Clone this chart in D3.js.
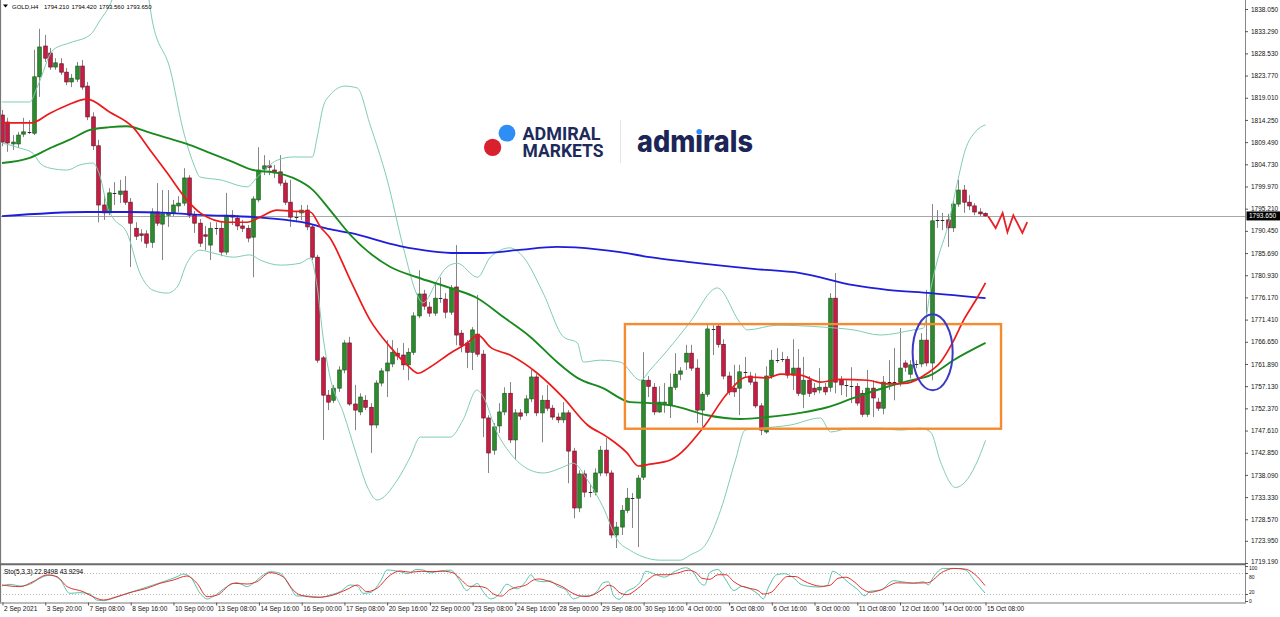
<!DOCTYPE html>
<html><head><meta charset="utf-8">
<script src="https://cdn.jsdelivr.net/npm/d3@7"></script>
<style>html,body{margin:0;padding:0;background:#fff;overflow:hidden}text{font-family:'Liberation Sans',Arial,sans-serif}</style>
</head><body><svg id="c" width="1280" height="617"></svg>
<script>
// ---------- DATA ----------
const dateLabels = ["2 Sep 2021","3 Sep 20:00","7 Sep 08:00","8 Sep 16:00","10 Sep 00:00","13 Sep 08:00","14 Sep 16:00","16 Sep 00:00","17 Sep 08:00","20 Sep 16:00","22 Sep 00:00","23 Sep 08:00","24 Sep 16:00","28 Sep 00:00","29 Sep 08:00","30 Sep 16:00","4 Oct 00:00","5 Oct 08:00","6 Oct 16:00","8 Oct 00:00","11 Oct 08:00","12 Oct 16:00","14 Oct 00:00","15 Oct 08:00"];
const priceLabels = ["1838.050","1833.290","1828.530","1823.770","1819.010","1814.250","1809.490","1804.730","1799.970","1795.210","1790.450","1785.690","1780.930","1776.170","1771.410","1766.650","1761.890","1757.130","1752.370","1747.610","1742.850","1738.090","1733.330","1728.570","1723.950","1719.190"];
const stochLabels = ["100","80","20","0"];

const open = [1815.3,1813.8,1809.1,1809.1,1811.2,1811.7,1811.4,1823.5,1830.1,1828.6,1825.6,1826.3,1824.5,1822.4,1823.0,1825.8,1821.5,1814.9,1808.7,1796.0,
1794.3,1798.6,1798.3,1799.0,1796.6,1791.0,1789.8,1789.8,1788.0,1794.5,1791.9,1793.8,1794.3,1795.8,1796.4,1801.8,1793.8,1792.1,1789.6,1787.4,
1791.0,1791.0,1785.9,1793.8,1793.2,1791.5,1791.0,1789.1,1797.1,1803.7,1804.4,1803.5,1803.1,1800.7,1796.6,1793.6,1794.3,1794.9,1791.3,1784.8,
1763.2,1755.2,1754.1,1756.7,1760.6,1766.4,1753.3,1751.6,1754.1,1752.6,1748.8,1757.8,1760.4,1761.9,1764.2,1763.8,1761.7,1764.4,1772.2,1776.9,
1774.1,1772.8,1776.0,1775.8,1773.0,1778.4,1768.5,1766.4,1764.4,1768.3,1764.0,1750.3,1743.4,1748.6,1751.6,1755.6,1745.6,1751.4,1751.4,1754.4,
1759.1,1751.4,1754.1,1752.4,1750.5,1749.9,1751.4,1743.2,1731.0,1738.3,1734.4,1734.4,1738.5,1743.4,1738.5,1725.2,1726.9,1730.5,1733.1,1733.1,
1737.6,1758.4,1756.9,1751.6,1753.1,1753.1,1756.9,1759.7,1762.3,1764.2,1761.0,1752.0,1755.4,1769.6,1770.0,1766.1,1759.3,1756.7,1756.7,1760.2,
1759.3,1758.0,1752.9,1747.3,1759.3,1762.7,1762.9,1762.9,1759.5,1761.0,1755.4,1758.4,1756.7,1756.3,1756.9,1756.9,1776.0,1758.4,1757.4,1757.2,
1757.1,1755.6,1751.1,1756.7,1753.7,1752.4,1758.0,1758.1,1758.0,1762.1,1759.7,1761.8,1761.9,1767.0,1762.1,1792.6,1792.8,1792.8,1791.1,1796.2,
1799.2,1796.6,1795.8,1794.5,1794.21];
const high = [1816.4,1814.7,1811.0,1811.7,1814.7,1814.2,1829.3,1833.8,1832.5,1829.7,1827.5,1827.5,1825.4,1824.1,1826.7,1827.1,1822.4,1815.9,1810.0,1798.1,
1799.6,1800.9,1801.4,1802.2,1797.5,1792.3,1790.8,1790.6,1795.3,1800.7,1799.2,1799.2,1797.1,1797.9,1803.9,1802.4,1794.7,1793.0,1791.5,1792.3,
1792.3,1792.3,1798.6,1794.9,1793.8,1792.8,1791.7,1797.9,1808.4,1806.7,1805.6,1804.6,1806.7,1801.4,1801.4,1794.5,1796.0,1796.0,1791.9,1785.3,
1763.6,1756.3,1757.4,1761.4,1767.0,1767.7,1757.4,1755.6,1755.2,1753.5,1758.4,1761.0,1767.0,1767.0,1765.3,1766.4,1765.3,1773.0,1782.0,1777.8,
1775.2,1779.3,1780.5,1777.1,1778.8,1787.4,1769.2,1767.0,1769.8,1776.7,1764.9,1750.9,1749.2,1753.5,1756.9,1758.0,1752.2,1752.2,1755.2,1760.6,
1759.7,1755.2,1757.4,1753.1,1751.4,1753.7,1752.0,1743.9,1739.1,1739.1,1735.9,1739.5,1744.3,1746.0,1739.1,1728.0,1731.6,1735.3,1734.2,1738.1,
1764.4,1759.3,1757.8,1757.1,1757.8,1759.9,1764.2,1761.2,1766.0,1766.0,1762.9,1755.9,1770.5,1770.2,1770.4,1767.2,1760.2,1761.7,1761.7,1763.4,
1760.2,1759.9,1753.5,1761.4,1764.9,1765.3,1764.5,1763.6,1767.2,1765.1,1763.4,1759.3,1757.8,1761.0,1757.8,1777.1,1781.4,1759.3,1758.4,1761.2,
1757.8,1756.3,1760.6,1758.4,1754.6,1759.3,1762.7,1765.3,1769.6,1762.7,1762.7,1762.7,1768.5,1777.8,1796.2,1794.9,1794.3,1794.1,1797.1,1801.4,
1800.3,1798.1,1796.4,1795.3,1794.42];
const low = [1808.6,1807.4,1807.8,1808.2,1810.6,1811.2,1811.0,1819.2,1826.7,1825.0,1825.0,1823.9,1821.7,1821.3,1822.4,1820.7,1814.2,1807.8,1792.3,1792.8,
1793.8,1796.0,1796.4,1796.0,1782.7,1788.5,1788.1,1786.8,1786.8,1791.5,1784.2,1791.3,1793.6,1794.5,1795.8,1793.2,1790.0,1787.0,1786.3,1784.2,
1789.6,1785.0,1785.3,1791.7,1790.6,1790.2,1788.0,1780.5,1796.6,1802.4,1802.4,1801.8,1800.1,1796.0,1791.3,1792.3,1792.8,1790.6,1784.2,1762.1,
1745.6,1752.0,1753.5,1755.9,1759.9,1752.9,1747.7,1750.9,1752.0,1742.8,1748.1,1757.1,1754.8,1761.2,1762.7,1760.6,1758.4,1763.8,1771.7,1773.5,
1772.0,1772.2,1775.0,1771.7,1772.4,1765.9,1764.4,1761.0,1760.6,1763.4,1746.2,1738.5,1742.4,1747.1,1750.9,1744.9,1741.3,1749.9,1750.7,1753.7,
1750.7,1745.1,1751.8,1749.9,1749.2,1749.2,1736.3,1728.8,1730.1,1733.3,1733.3,1733.7,1737.8,1737.8,1724.5,1722.4,1725.2,1729.9,1726.7,1722.6,
1737.0,1754.8,1750.9,1751.4,1751.4,1750.3,1756.3,1758.4,1760.6,1760.4,1749.2,1748.4,1754.8,1763.8,1765.4,1758.6,1755.2,1754.8,1750.9,1758.9,
1757.4,1752.4,1746.6,1746.9,1758.7,1762.1,1762.3,1758.8,1756.3,1755.0,1752.4,1754.8,1755.2,1755.6,1755.2,1755.9,1755.6,1755.2,1754.8,1753.5,
1752.9,1750.5,1750.5,1750.5,1751.8,1751.1,1756.3,1754.1,1757.1,1760.2,1758.8,1761.0,1761.2,1761.4,1758.4,1791.1,1790.6,1787.0,1790.2,1795.6,
1794.3,1794.9,1793.8,1793.6,1793.56];
const close = [1809.5,1809.3,1809.5,1811.0,1811.7,1811.6,1823.5,1829.9,1827.5,1825.6,1826.5,1824.5,1822.4,1823.2,1825.8,1821.3,1814.9,1808.7,1796.0,1794.3,
1798.6,1798.4,1799.0,1796.6,1792.1,1789.3,1789.5,1787.8,1794.5,1792.1,1794.1,1794.3,1796.0,1796.4,1801.8,1793.8,1792.1,1787.8,1789.3,1791.0,
1791.2,1785.9,1793.8,1793.4,1791.5,1791.0,1788.9,1797.3,1803.5,1804.4,1804.1,1802.9,1800.7,1796.6,1793.4,1793.4,1794.9,1791.3,1784.8,1762.7,
1755.2,1753.7,1756.7,1760.6,1766.4,1753.3,1752.0,1754.8,1752.6,1748.8,1757.8,1760.4,1762.1,1764.4,1763.6,1761.7,1764.4,1772.2,1776.9,1774.3,
1772.8,1776.0,1776.2,1773.0,1778.2,1768.1,1765.9,1764.4,1769.2,1764.0,1750.3,1742.8,1748.4,1751.6,1755.6,1745.6,1751.4,1750.7,1754.4,1759.1,
1751.4,1754.1,1752.4,1750.5,1749.9,1751.4,1743.2,1731.0,1738.3,1734.4,1734.6,1738.5,1743.4,1738.5,1725.2,1726.9,1730.5,1733.1,1733.3,1737.4,
1758.4,1757.1,1751.6,1753.7,1753.7,1756.9,1759.7,1760.4,1764.2,1761.0,1752.0,1755.4,1769.4,1769.4,1766.1,1759.3,1755.9,1755.9,1760.2,1760.3,
1758.0,1752.9,1747.7,1759.3,1762.7,1762.9,1763.0,1759.5,1761.0,1755.6,1758.4,1755.6,1755.9,1756.9,1755.9,1776.0,1758.0,1757.4,1757.3,1757.1,
1753.5,1751.1,1756.7,1754.6,1752.4,1758.0,1758.1,1758.0,1761.0,1761.2,1761.7,1761.9,1767.0,1762.1,1792.6,1792.8,1792.7,1791.1,1796.2,1799.2,
1796.6,1795.8,1794.5,1794.1,1793.65];

// indicator readings: [bar index, value]
const maFast = [[0,1813.6],[5.5,1813.6],[9,1815.7],[12.2,1817.4],[15.9,1818.7],[20.2,1815.9],[24.5,1812.7],[27.7,1807.8],[30.9,1802.9],[34.6,1797.1],[37.1,1794.3],[42.1,1792.3],[45.9,1792.3],[48.3,1793.4],[51.5,1794.9],[53.9,1794.7],[57.7,1794.5],[59.6,1791.3],[61.4,1788.9],[65.2,1779.9],[68.9,1771.3],[72.7,1765.5],[75.8,1761.7],[77.9,1759.9],[80.1,1761.2],[83.9,1764.2],[87.1,1766.4],[89.1,1768.1],[91.4,1765.5],[95.1,1763.8],[100.2,1759.9],[105.1,1754.6],[109.6,1748.8],[113.3,1746.2],[117,1742.8],[119.1,1740.0],[121.3,1740.4],[125.1,1741.3],[131.3,1748.3],[135.8,1755.6],[139.5,1759.1],[143.3,1758.9],[145.7,1759.7],[149.4,1759.5],[153.2,1758.0],[156.9,1758.6],[162,1758.4],[165.7,1757.6],[169.5,1757.8],[173.2,1759.9],[175.7,1762.3],[177.9,1766.4],[180,1771.3],[182.6,1776.2],[184.1,1779.3]];
const maMid = [[0,1805.0],[5.2,1806.1],[9,1808.2],[12.7,1810.0],[16.5,1812.1],[20.2,1812.7],[23.4,1812.9],[27.2,1811.7],[30.9,1810.4],[34.6,1809.1],[38.4,1807.4],[43.3,1805.2],[47,1803.5],[51.5,1802.9],[54.5,1801.8],[58.2,1799.2],[61.4,1794.9],[65.2,1789.6],[72.7,1782.7],[77.7,1780.5],[83.9,1778.2],[89,1776.0],[93.8,1772.0],[98.9,1767.7],[103.9,1762.3],[107.7,1758.9],[112.5,1756.7],[117.6,1753.7],[121.3,1753.5],[125.7,1752.9],[132,1750.9],[138.2,1750.1],[143.3,1750.5],[149.4,1751.4],[154.5,1752.6],[159.4,1754.6],[165.7,1757.0],[169.5,1758.2],[173.8,1759.5],[178.1,1762.7],[184.1,1766.4]];
const maSlow = [[0,1793.6],[15.9,1794.5],[23.4,1794.5],[30.9,1794.3],[37.1,1793.9],[49.6,1793.2],[57.1,1792.1],[61.4,1790.8],[65.2,1790.0],[74.5,1787.2],[85.2,1785.7],[90.1,1785.7],[96.4,1786.3],[103.9,1787.0],[111.4,1786.5],[115.7,1785.9],[121.3,1784.8],[128.3,1783.8],[140.6,1782.3],[149.4,1781.4],[159.4,1778.8],[165.7,1777.8],[173.8,1777.1],[184.1,1776.0]];
const bbUpper = [[0,1818.1],[5.2,1818.1],[6.6,1821.3],[9.6,1829.3],[12.7,1830.8],[16.5,1832.5],[18.4,1835.7],[20.2,1838.9],[21.7,1843.2],[24.9,1845.3],[27.3,1841.1],[28.1,1835.7],[31.5,1825.0],[33.9,1812.1],[35.8,1805.0],[37.1,1802.0],[40.8,1801.4],[45.9,1799.9],[47.8,1802.0],[51.5,1805.6],[54.5,1806.3],[58.1,1806.3],[59,1810.6],[60.1,1817.0],[61.4,1819.6],[64.2,1821.5],[66.5,1821.1],[68.9,1813.2],[72.1,1801.4],[75.1,1787.0],[77.7,1776.7],[78.8,1775.0],[81.5,1779.9],[83.3,1782.7],[85.2,1783.5],[89,1780.5],[91.4,1784.8],[95.1,1786.8],[97.6,1784.8],[101.3,1777.1],[105.1,1767.7],[107.7,1766.4],[108.8,1762.3],[112,1762.7],[115.7,1762.3],[119.5,1758.4],[121.3,1760.6],[125.7,1766.4],[128.8,1770.9],[133.9,1778.2],[138.2,1770.7],[139.5,1769.2],[145.1,1770.2],[153.7,1769.8],[159.4,1769.2],[164.4,1768.1],[170.6,1769.2],[172.5,1769.6],[173.8,1777.8],[175.1,1784.2],[177,1791.3],[178.8,1800.7],[180.3,1807.8],[182.2,1811.7],[184.1,1813.2]];
const bbLower = [[0,1809.3],[3.4,1808.2],[5.8,1807.1],[7.1,1805.0],[9,1803.9],[12.2,1803.5],[14.6,1804.6],[17,1805.0],[18.4,1802.0],[19.7,1795.6],[20.8,1793.2],[23.4,1790.0],[25.8,1781.4],[28.3,1777.7],[30.9,1777.1],[32.8,1778.4],[34.6,1783.5],[37.1,1786.3],[39.5,1785.7],[43.3,1784.8],[46.4,1785.3],[48.3,1784.2],[52.1,1783.1],[55.8,1783.5],[57.7,1784.6],[59,1778.4],[60.1,1767.7],[61.4,1759.1],[63.9,1751.4],[66.5,1741.9],[68.4,1735.5],[70.2,1732.7],[74,1737.0],[76.4,1741.9],[78.3,1746.2],[83.9,1746.2],[86.3,1749.9],[88.9,1756.3],[90.1,1754.8],[92.7,1747.1],[95.1,1742.8],[98.9,1739.1],[101.3,1738.5],[105.1,1739.8],[106.9,1740.6],[109.6,1737.0],[112.5,1731.2],[115.2,1724.1],[117.6,1721.9],[120,1720.5],[123.2,1719.8],[127,1719.8],[128.8,1720.9],[131.6,1723.0],[134.5,1730.5],[137.3,1741.3],[139.1,1747.7],[142,1748.1],[147.6,1748.8],[153.2,1750.3],[155.1,1747.3],[158.8,1748.1],[164.4,1748.1],[168.2,1747.7],[171.9,1748.1],[173.8,1747.3],[175.7,1740.8],[178.5,1735.4],[180.3,1736.6],[182.2,1740.1],[184.1,1745.5]];
const stochK = [[0,42.9],[1.5,47.6],[3.4,42.9],[5.2,47.6],[7.1,64.8],[9,74.3],[10.9,60],[12.7,21.9],[14.6,23.8],[16.5,20],[17.7,2.9],[19,1],[20.8,7.6],[23.4,21.9],[25.8,33.3],[28.3,45.7],[30.2,55.2],[32.8,69.5],[33.9,77.1],[35.2,69.5],[37.1,21.9],[38.4,5.7],[39.5,12.4],[42.1,41],[44,52.4],[45.9,41],[47,50.5],[48.9,74.3],[50.2,83.8],[52.1,79],[53.9,41],[55.2,14.3],[57.1,14.3],[59.6,10.5],[61.4,17.1],[63.3,26.7],[65.2,45.7],[66.5,42.9],[67.6,21.9],[68.9,23.8],[70.8,55.2],[72.1,88.6],[74.5,84],[76,78],[77.5,90],[79,88],[80,80],[82,86],[84,88],[85.5,62],[87,30],[88,42],[89,50],[90,28],[91.5,6],[93,18],[94.5,48],[95.5,40],[96.5,35],[98,55],[99,75],[100,58],[101.5,55],[102.5,58],[104,42],[105.5,32],[107,6],[108.5,14],[110,15],[111.5,30],[112.5,52],[113.5,55],[114.5,15],[115.5,5],[117,28],[118.5,40],[119.5,55],[120.5,85],[122,78],[124,68],[126,85],[128,95],[129.5,80],[130.5,55],[131.5,45],[132.5,82],[134,90],[135.5,60],[137,30],[138.5,42],[140,35],[141.5,20],[142.5,6],[143.5,40],[145,75],[146.5,78],[148,68],[149.5,48],[151,42],[153,40],[154.5,45],[155.5,85],[157,72],[158.5,52],[160,35],[161.5,15],[162.5,28],[164.4,31],[166.9,58],[168.5,55],[170.6,51],[172.5,55],[173.4,46],[174.4,70],[176.2,93],[178.8,93],[180.3,89],[182.2,55],[184,22.85]];
const stochD = [[0,45.7],[3.4,41],[5.8,55.2],[8.4,74.3],[10.3,69.5],[12.2,41],[15.2,26.7],[17,12.4],[19,2.9],[21.5,12.4],[24.6,26.7],[27.1,36.2],[29.6,50.5],[32.1,60],[34.6,71.4],[36.5,50.5],[38.4,12.4],[40.3,17.1],[43.3,50.5],[45.9,48.6],[47.7,55.2],[50.2,81],[52.6,69.5],[54.5,31.4],[55.8,17.1],[59,10.5],[62,17.1],[64.6,33.3],[66.5,45.7],[68.3,26.7],[70.2,36.2],[72.7,74.3],[74.5,85.7],[76.5,82],[78.5,85],[80.5,84],[82.5,85],[84.5,80],[86,60],[87.5,42],[89,42],[90.5,38],[92,20],[93.5,14],[95,32],[96.5,40],[98,45],[99.5,60],[100.5,63],[102,58],[103.5,50],[105,40],[106.5,25],[108,15],[109.5,13],[111,20],[112.5,35],[113.5,45],[114.5,40],[115.5,25],[117,18],[118.5,30],[119.5,42],[121,62],[122.5,75],[124.5,75],[126.5,80],[128.5,88],[130,80],[131,65],[132.5,62],[134,75],[135.5,75],[137,55],[138.5,42],[140,36],[141.5,30],[142.5,20],[144,25],[145.5,50],[147,70],[148.5,70],[150,58],[151.5,48],[153.5,42],[155,45],[156.5,65],[158,68],[159.5,55],[161,35],[162.5,25],[164.4,31],[167.6,52],[170.6,51],[173.2,52],[176.2,84],[178.1,93],[180.3,91],[182.6,69],[184,43.93]];

// annotations
const boxBars = [116.6, 187.0];
const boxPrices = [1770.45, 1748.0];
const ellipseCenter = [174.2, 1764.4];
const ellipseRadius = [3.75, 8.15];
const zigzag = [[184.6,1793.6],[186.0,1791.05],[187.3,1794.3],[188.2,1790.2],[189.3,1793.8],[191.0,1790.0],[191.9,1792.3]];
const header = ["GOLD,H4","1794.210","1794.420","1793.560","1793.650"];
const lastPrice = 1793.65;
const stochTitle = "Sto(5,3,3) 22.8498 43.9294";

// ---------- CHART ----------
const svg = d3.select('#c');
const RIGHT = 1245, MAIN_BOTTOM = 563.5, ST_TOP = 565, ST_BOTTOM = 602.5;
const x = d3.scaleLinear().domain([0, 184]).range([2, 985]);
const y = d3.scaleLinear().domain([1719.19, 1838.05]).range([563, 9]);
const ys = d3.scaleLinear().domain([0, 100]).range([601, 566]);
const FS = 6.5;

const defs = svg.append('defs');
defs.append('clipPath').attr('id','clipMain').append('rect').attr('x',1).attr('y',0).attr('width',RIGHT-1).attr('height',MAIN_BOTTOM);
defs.append('clipPath').attr('id','clipSt').append('rect').attr('x',1).attr('y',ST_TOP+1).attr('width',RIGHT-1).attr('height',ST_BOTTOM-ST_TOP-1);

svg.append('rect').attr('width',1280).attr('height',617).attr('fill','#fff');

// watermark logo
const logo = svg.append('g');
logo.append('circle').attr('cx',507).attr('cy',133.2).attr('r',8.4).attr('fill','#2f8ef5');
logo.append('circle').attr('cx',492.6).attr('cy',147.4).attr('r',8.6).attr('fill','#d8212c');
const am = logo.append('text').style('font-family','Roboto, sans-serif').attr('font-weight',700).attr('font-size',18.6).attr('fill','#1d2a5b');
am.append('tspan').attr('x',522.5).attr('y',139.6).attr('textLength',78).attr('lengthAdjust','spacingAndGlyphs').text('ADMIRAL');
am.append('tspan').attr('x',522.5).attr('y',157).attr('textLength',81).attr('lengthAdjust','spacingAndGlyphs').text('MARKETS');
logo.append('line').attr('x1',620.5).attr('x2',620.5).attr('y1',120).attr('y2',163).attr('stroke','#e3e3e8').attr('stroke-width',1);
const adm = logo.append('text').attr('x',637).attr('y',151.5).text('adm\u0131rals')
  .style('font-family','Inter, Roboto, sans-serif').attr('font-weight',800).attr('font-size',30)
  .attr('textLength',116).attr('lengthAdjust','spacingAndGlyphs').attr('fill','#1c2656');
let dotX = 701;
try { const e = adm.node().getExtentOfChar(3); dotX = e.x + e.width/2; } catch(err) {}
logo.append('circle').attr('cx',dotX).attr('cy',131.8).attr('r',2.8).attr('fill','#2f8ef5');

// main panel
const gm = svg.append('g').attr('clip-path','url(#clipMain)');
gm.append('line').attr('x1',0).attr('x2',RIGHT).attr('y1',Math.round(y(lastPrice))+0.5).attr('y2',Math.round(y(lastPrice))+0.5)
  .attr('stroke','#a8a8a8').attr('stroke-width',1);

const bars = d3.range(open.length).map(i=>({i,o:open[i],h:high[i],l:low[i],c:close[i]}));
const cx = d=>Math.round(x(d.i));
gm.selectAll('line.wick').data(bars).join('line').attr('class','wick')
  .attr('x1',d=>cx(d)+0.5).attr('x2',d=>cx(d)+0.5)
  .attr('y1',d=>y(d.h)).attr('y2',d=>y(d.l))
  .attr('stroke','#858585').attr('stroke-width',1);
gm.selectAll('rect.body').data(bars).join('rect').attr('class','body')
  .each(function(d){
    const t = y(Math.max(d.o,d.c)), b = y(Math.min(d.o,d.c));
    const h = b - t;
    const sel = d3.select(this).attr('x',cx(d)-1.3).attr('width',3.6);
    if (h < 1.2) {
      sel.attr('y',Math.round((t+b)/2)).attr('height',1).attr('fill','#2a2a2a').attr('stroke','none');
    } else {
      const up = d.c >= d.o;
      sel.attr('y',t).attr('height',h).attr('fill',up?'#2e8b2e':'#c81e45')
         .attr('stroke',up?'#1b5a1b':'#6e1024').attr('stroke-width',0.7);
    }
  });

const line = d3.line().x(d=>x(d[0])).y(d=>y(d[1])).curve(d3.curveMonotoneX);
[[bbUpper,'#7fcdb3',1],[bbLower,'#7fcdb3',1],[maSlow,'#1d1ddb',1.8],[maMid,'#198a1e',1.9],[maFast,'#ec1a1a',1.7]].forEach(([data,col,w])=>{
  gm.append('path').attr('d',line(data)).attr('fill','none').attr('stroke',col).attr('stroke-width',w);
});

// annotations
gm.append('rect').attr('x',x(boxBars[0])).attr('y',y(boxPrices[0]))
  .attr('width',x(boxBars[1])-x(boxBars[0])).attr('height',y(boxPrices[1])-y(boxPrices[0]))
  .attr('fill','none').attr('stroke','#f58a2e').attr('stroke-width',2.4);
gm.append('ellipse').attr('cx',x(ellipseCenter[0])).attr('cy',y(ellipseCenter[1]))
  .attr('rx',x(ellipseRadius[0])-x(0)).attr('ry',y(1719.19)-y(1719.19+ellipseRadius[1]))
  .attr('fill','none').attr('stroke','#3a3ac4').attr('stroke-width',2);
gm.append('path').attr('d',d3.line().x(d=>x(d[0])).y(d=>y(d[1]))(zigzag))
  .attr('fill','none').attr('stroke','#e8202a').attr('stroke-width',1.8);

// stochastic panel
const gs = svg.append('g').attr('clip-path','url(#clipSt)');
[80,20].forEach(v=>{
  gs.append('line').attr('x1',0).attr('x2',RIGHT).attr('y1',Math.round(ys(v))+0.5).attr('y2',Math.round(ys(v))+0.5)
    .attr('stroke','#b5b5b5').attr('stroke-dasharray','1,2');
});
const sline = d3.line().x(d=>x(d[0])).y(d=>ys(d[1])).curve(d3.curveMonotoneX);
gs.append('path').attr('d',sline(stochK)).attr('fill','none').attr('stroke','#56c3ad').attr('stroke-width',1);
gs.append('path').attr('d',sline(stochD)).attr('fill','none').attr('stroke','#e2302f').attr('stroke-width',1);

// frames
svg.append('line').attr('x1',0.5).attr('x2',0.5).attr('y1',0).attr('y2',ST_BOTTOM).attr('stroke','#777').attr('stroke-width',1.2);
svg.append('line').attr('x1',RIGHT+0.5).attr('x2',RIGHT+0.5).attr('y1',0).attr('y2',ST_BOTTOM).attr('stroke','#888').attr('stroke-width',1);
svg.append('line').attr('x1',0).attr('x2',RIGHT+1).attr('y1',564.2).attr('y2',564.2).attr('stroke','#6a6a6a').attr('stroke-width',2);
svg.append('line').attr('x1',0).attr('x2',RIGHT+1).attr('y1',ST_BOTTOM+0.5).attr('y2',ST_BOTTOM+0.5).attr('stroke','#777').attr('stroke-width',1);

// axes
const fontAxis = (fs) => g => { g.select('.domain').remove(); g.selectAll('text').attr('font-size',fs).attr('fill','#111').style('font-family',"'Liberation Sans',Arial,sans-serif"); g.selectAll('line').attr('stroke','#555'); };
const pa = svg.append('g').attr('transform',`translate(${RIGHT},0)`)
  .call(d3.axisRight(y).tickValues(priceLabels.map(Number)).tickFormat((d,i)=>priceLabels[i]).tickSize(3).tickPadding(3))
  .call(fontAxis(FS));
pa.selectAll('.tick text').filter(d=>d<1720).attr('dy','0.1em');
const sa = svg.append('g').attr('transform',`translate(${RIGHT},0)`)
  .call(d3.axisRight(ys).tickValues(stochLabels.map(Number)).tickFormat((d,i)=>stochLabels[i]).tickSize(3).tickPadding(1))
  .call(fontAxis(5))
sa.selectAll('.tick text').attr('dy',(d)=> d===100 ? '0.75em' : d===80 ? '1.0em' : d===20 ? '-0.15em' : '0.3em');
const xa = svg.append('g').attr('transform',`translate(0,${ST_BOTTOM})`)
  .call(d3.axisBottom(x).tickValues(dateLabels.map((d,i)=>i*8)).tickFormat((d,i)=>dateLabels[i]).tickSize(3).tickPadding(1))
  .call(fontAxis(FS));
xa.selectAll('.tick text').attr('text-anchor','start').attr('dx',1.5);
xa.selectAll('.tick line').attr('transform','translate(0.5,0)');

// last price box
const ly = y(lastPrice);
svg.append('rect').attr('x',RIGHT+1.5).attr('y',ly-4.5).attr('width',34.5).attr('height',9).attr('fill','#000');
svg.append('text').attr('x',RIGHT+4).attr('y',ly+2.3).text(lastPrice.toFixed(3)).attr('font-size',FS).attr('fill','#fff');

// header
svg.append('path').attr('d','M3,4.5 L8,4.5 L5.5,7.5 Z').attr('fill','#000');
const hx = [12,44,71.5,99,126.5];
header.forEach((t,i)=>svg.append('text').attr('x',hx[i]).attr('y',9).text(t).attr('font-size',6).attr('fill','#000'));
svg.append('text').attr('x',4).attr('y',573.5).text(stochTitle).attr('font-size',FS).attr('fill','#000');
</script>
</body></html>
